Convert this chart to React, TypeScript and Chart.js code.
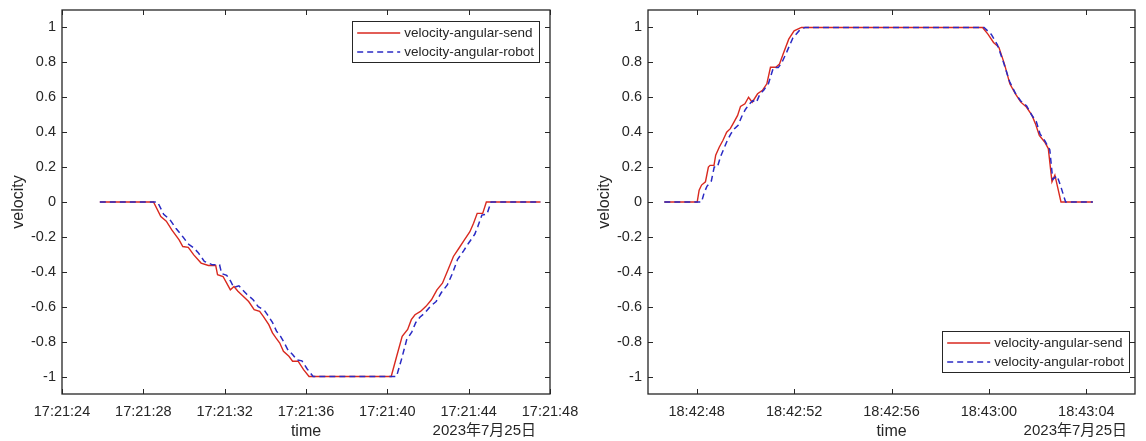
import React, { useEffect, useRef } from "react";
import { Chart, registerables } from "chart.js";

Chart.register(...registerables);

// ---------- data (seconds from the axis start) ----------
const leftXTicks = [0, 4, 8, 12, 16, 20, 24];
const leftXLabels = ["17:21:24", "17:21:28", "17:21:32", "17:21:36", "17:21:40", "17:21:44", "17:21:48"];
const rightXTicks = [2, 6, 10, 14, 18];
const rightXLabels = ["18:42:48", "18:42:52", "18:42:56", "18:43:00", "18:43:04"];
const yTicks = [-1, -0.8, -0.6, -0.4, -0.2, 0, 0.2, 0.4, 0.6, 0.8, 1];
const yLabels = ["-1", "-0.8", "-0.6", "-0.4", "-0.2", "0", "0.2", "0.4", "0.6", "0.8", "1"];
const dateLabel = "2023年7月25日";
const seriesNames = ["velocity-angular-send", "velocity-angular-robot"];

const leftSendT = [1.86, 4.5, 4.86, 5.13, 5.4, 5.76, 5.94, 6.21, 6.48, 6.84, 7.2, 7.56, 7.65, 7.92, 8.1, 8.28, 8.46, 8.64, 8.91, 9.18, 9.45, 9.72, 9.9, 10.17, 10.35, 10.53, 10.71, 10.89, 11.16, 11.34, 11.61, 11.88, 12.15, 16.19, 16.46, 16.73, 17.0, 17.18, 17.36, 17.63, 17.9, 18.17, 18.44, 18.71, 18.98, 19.25, 19.52, 19.79, 20.06, 20.24, 20.42, 20.69, 20.87, 23.53];
const leftSendV = [0, 0, -0.084, -0.11, -0.16, -0.217, -0.255, -0.26, -0.303, -0.35, -0.364, -0.364, -0.417, -0.427, -0.465, -0.503, -0.484, -0.51, -0.54, -0.57, -0.617, -0.627, -0.655, -0.703, -0.75, -0.78, -0.808, -0.855, -0.884, -0.912, -0.912, -0.96, -1, -1, -0.884, -0.77, -0.73, -0.674, -0.646, -0.627, -0.598, -0.56, -0.503, -0.465, -0.389, -0.312, -0.265, -0.217, -0.17, -0.122, -0.065, -0.065, 0, 0];
const leftRobotT = [1.86, 4.7, 5.0, 5.3, 5.6, 5.95, 6.2, 6.45, 6.7, 7.0, 7.4, 7.75, 7.85, 8.1, 8.3, 8.45, 8.7, 8.85, 9.1, 9.4, 9.65, 9.95, 10.1, 10.35, 10.55, 10.75, 10.9, 11.1, 11.35, 11.55, 11.8, 12.05, 12.35, 16.45, 16.7, 16.95, 17.2, 17.4, 17.6, 17.85, 18.1, 18.4, 18.65, 18.95, 19.2, 19.45, 19.75, 20.0, 20.3, 20.45, 20.65, 20.9, 21.1, 23.53];
const leftRobotV = [0, 0, -0.07, -0.1, -0.15, -0.2, -0.24, -0.26, -0.29, -0.34, -0.36, -0.36, -0.41, -0.42, -0.455, -0.49, -0.48, -0.5, -0.53, -0.56, -0.6, -0.62, -0.645, -0.69, -0.74, -0.77, -0.8, -0.845, -0.875, -0.905, -0.91, -0.955, -1, -1, -0.9, -0.79, -0.745, -0.69, -0.66, -0.635, -0.6, -0.57, -0.52, -0.475, -0.41, -0.33, -0.28, -0.235, -0.185, -0.14, -0.075, -0.07, 0, 0];

const rightSendT = [0.67, 2.02, 2.1, 2.2, 2.36, 2.48, 2.55, 2.71, 2.78, 2.93, 3.08, 3.23, 3.38, 3.53, 3.68, 3.8, 3.98, 4.13, 4.28, 4.5, 4.7, 4.88, 5.03, 5.25, 5.4, 5.55, 5.78, 6.0, 6.3, 13.74, 13.96, 14.19, 14.41, 14.64, 14.86, 15.09, 15.31, 15.54, 15.77, 15.91, 16.07, 16.29, 16.44, 16.59, 16.71, 16.82, 16.96, 18.27];
const rightSendV = [0, 0, 0.068, 0.097, 0.116, 0.2, 0.21, 0.21, 0.268, 0.315, 0.354, 0.4, 0.42, 0.458, 0.496, 0.548, 0.563, 0.6, 0.572, 0.62, 0.64, 0.677, 0.772, 0.772, 0.79, 0.848, 0.933, 0.981, 1, 1, 0.962, 0.914, 0.886, 0.79, 0.677, 0.62, 0.572, 0.544, 0.496, 0.449, 0.382, 0.344, 0.306, 0.116, 0.154, 0.087, 0, 0];
const rightRobotT = [0.67, 2.2, 2.3, 2.42, 2.6, 2.72, 2.85, 2.98, 3.1, 3.25, 3.4, 3.55, 3.7, 3.85, 4.0, 4.15, 4.3, 4.45, 4.6, 4.75, 4.95, 5.15, 5.35, 5.5, 5.7, 5.95, 6.2, 6.45, 13.8, 14.1, 14.35, 14.6, 14.85, 15.1, 15.3, 15.55, 15.75, 15.95, 16.1, 16.3, 16.5, 16.62, 16.8, 16.95, 17.15, 18.27];
const rightRobotV = [0, 0, 0.05, 0.09, 0.12, 0.2, 0.2, 0.26, 0.3, 0.35, 0.39, 0.42, 0.44, 0.49, 0.53, 0.56, 0.58, 0.57, 0.62, 0.64, 0.68, 0.77, 0.77, 0.8, 0.86, 0.94, 0.98, 1, 1, 0.96, 0.9, 0.8, 0.69, 0.62, 0.58, 0.55, 0.5, 0.46, 0.39, 0.35, 0.3, 0.13, 0.15, 0.09, 0, 0];

// ---------- styling ----------
const FONT = "'Liberation Sans', Arial, 'Noto Sans CJK SC', sans-serif";
const TXT = "#262626";
const SEND_COLOR = "#d9291f";
const ROBOT_COLOR = "#2a2ac4";

const toPts = (t: number[], v: number[]) => t.map((x, i) => ({ x, y: v[i] }));

const framePlugin = {
  id: "matlabFrame",
  afterDraw(chart: any, _args: any, opts: any) {
    const { ctx, chartArea: a, scales } = chart;
    const xs = scales.x;
    const ys = scales.y;
    ctx.save();
    ctx.strokeStyle = TXT;
    ctx.lineWidth = 1;
    ctx.beginPath();
    xs.ticks.forEach((t: any) => {
      const px = Math.round(xs.getPixelForValue(t.value)) + 0.5;
      ctx.moveTo(px, a.bottom);
      ctx.lineTo(px, a.bottom - 5);
      ctx.moveTo(px, a.top);
      ctx.lineTo(px, a.top + 5);
    });
    ys.ticks.forEach((t: any) => {
      const py = Math.round(ys.getPixelForValue(t.value)) + 0.5;
      ctx.moveTo(a.left, py);
      ctx.lineTo(a.left + 5, py);
      ctx.moveTo(a.right, py);
      ctx.lineTo(a.right - 5, py);
    });
    ctx.stroke();
    ctx.lineWidth = 1.3;
    ctx.strokeRect(a.left, a.top, a.right - a.left, a.bottom - a.top);

    // legend box
    const ds = chart.data.datasets;
    ctx.font = `13.5px ${FONT}`;
    const textW = Math.max(...ds.map((d: any) => ctx.measureText(d.label).width));
    const sample = 43;
    const boxW = 5 + sample + 4 + textW + 5;
    const boxH = 41;
    const bx = a.right - opts.legendMarginX - boxW;
    const by = opts.legendCorner === "top" ? a.top + opts.legendMarginY : a.bottom - opts.legendMarginY - boxH;
    ctx.fillStyle = "#ffffff";
    ctx.fillRect(bx, by, boxW, boxH);
    ctx.lineWidth = 1;
    ctx.strokeStyle = TXT;
    ctx.strokeRect(Math.round(bx) + 0.5, Math.round(by) + 0.5, Math.round(boxW), boxH);
    ds.forEach((d: any, i: number) => {
      const ry = by + 12 + i * 19;
      ctx.save();
      ctx.strokeStyle = d.borderColor;
      ctx.lineWidth = d.borderWidth;
      ctx.setLineDash(d.borderDash || []);
      ctx.beginPath();
      ctx.moveTo(bx + 5, ry);
      ctx.lineTo(bx + 5 + sample, ry);
      ctx.stroke();
      ctx.restore();
      ctx.fillStyle = TXT;
      ctx.textAlign = "left";
      ctx.textBaseline = "middle";
      ctx.fillText(d.label, bx + 5 + sample + 4, ry);
    });

    // date label
    ctx.font = `15px ${FONT}`;
    ctx.fillStyle = TXT;
    ctx.textAlign = "right";
    ctx.textBaseline = "middle";
    ctx.fillText(opts.date, a.right - opts.dateInset, chart.height - 10);
    ctx.restore();
  },
};

interface PanelProps {
  left: number;
  width: number;
  xMax: number;
  xTicks: number[];
  xLabels: string[];
  sendT: number[];
  sendV: number[];
  robotT: number[];
  robotV: number[];
  yAxisWidth: number;
  yTitlePad: number;
  rightPad: number;
  legendCorner: string;
  legendMarginX: number;
  legendMarginY: number;
  dateInset: number;
}

function Panel(p: PanelProps) {
  const ref = useRef<HTMLCanvasElement | null>(null);
  useEffect(() => {
    if (!ref.current) return;
    const chart = new Chart(ref.current, {
      type: "line",
      data: {
        datasets: [
          {
            label: seriesNames[0],
            data: toPts(p.sendT, p.sendV),
            borderColor: SEND_COLOR,
            borderWidth: 1.4,
            pointRadius: 0,
            tension: 0,
            fill: false,
            order: 1,
          },
          {
            label: seriesNames[1],
            data: toPts(p.robotT, p.robotV),
            borderColor: ROBOT_COLOR,
            borderWidth: 1.5,
            borderDash: [6, 4],
            pointRadius: 0,
            tension: 0,
            fill: false,
            order: 0,
          },
        ],
      } as any,
      options: {
        responsive: false,
        animation: false,
        devicePixelRatio: 1,
        layout: { padding: { top: 10, right: p.rightPad, left: 0, bottom: 0 } },
        plugins: {
          legend: { display: false },
          tooltip: { enabled: false },
          matlabFrame: {
            date: dateLabel,
            dateInset: p.dateInset,
            legendCorner: p.legendCorner,
            legendMarginX: p.legendMarginX,
            legendMarginY: p.legendMarginY,
          },
        } as any,
        scales: {
          x: {
            type: "linear",
            min: 0,
            max: p.xMax,
            afterBuildTicks: (s: any) => {
              s.ticks = p.xTicks.map((v) => ({ value: v }));
            },
            afterFit: (s: any) => {
              s.height = 47;
            },
            grid: { display: false, drawTicks: false },
            border: { display: false },
            ticks: {
              autoSkip: false,
              maxRotation: 0,
              minRotation: 0,
              padding: 9,
              color: TXT,
              font: { family: FONT, size: 14.5 },
              callback: (v: any) => p.xLabels[p.xTicks.indexOf(Number(v))],
            },
            title: {
              display: true,
              text: "time",
              color: TXT,
              font: { family: FONT, size: 16 },
              padding: { top: 0, bottom: 0 },
            },
          },
          y: {
            type: "linear",
            min: -1.1,
            max: 1.1,
            afterBuildTicks: (s: any) => {
              s.ticks = yTicks.map((v) => ({ value: v }));
            },
            afterFit: (s: any) => {
              s.width = p.yAxisWidth;
            },
            grid: { display: false, drawTicks: true, tickLength: 6 },
            border: { display: false },
            ticks: {
              padding: 0,
              color: TXT,
              font: { family: FONT, size: 14.5 },
              callback: (v: any) => {
                const i = yTicks.findIndex((t) => Math.abs(t - Number(v)) < 1e-6);
                return yLabels[i];
              },
            },
            title: {
              display: true,
              text: "velocity",
              color: TXT,
              font: { family: FONT, size: 16 },
              padding: { top: p.yTitlePad, bottom: 0 },
            },
          },
        },
      } as any,
      plugins: [framePlugin as any],
    });
    return () => chart.destroy();
  }, []);
  return (
    <canvas
      ref={ref}
      width={p.width}
      height={441}
      style={{ position: "absolute", left: p.left, top: 0, width: p.width, height: 441, display: "block" }}
    />
  );
}

export default function App() {
  return (
    <div style={{ position: "fixed", left: 0, top: 0, width: 1146, height: 441, background: "#ffffff", overflow: "hidden" }}>
      <Panel
        left={0}
        width={600}
        xMax={24}
        xTicks={leftXTicks}
        xLabels={leftXLabels}
        sendT={leftSendT}
        sendV={leftSendV}
        robotT={leftRobotT}
        robotV={leftRobotV}
        yAxisWidth={62}
        yTitlePad={9}
        rightPad={50}
        legendCorner="top"
        legendMarginX={11}
        legendMarginY={11}
        dateInset={14}
      />
      <Panel
        left={573}
        width={573}
        xMax={20}
        xTicks={rightXTicks}
        xLabels={rightXLabels}
        sendT={rightSendT}
        sendV={rightSendV}
        robotT={rightRobotT}
        robotV={rightRobotV}
        yAxisWidth={75}
        yTitlePad={22}
        rightPad={11}
        legendCorner="bottom"
        legendMarginX={6}
        legendMarginY={22}
        dateInset={8}
      />
    </div>
  );
}
